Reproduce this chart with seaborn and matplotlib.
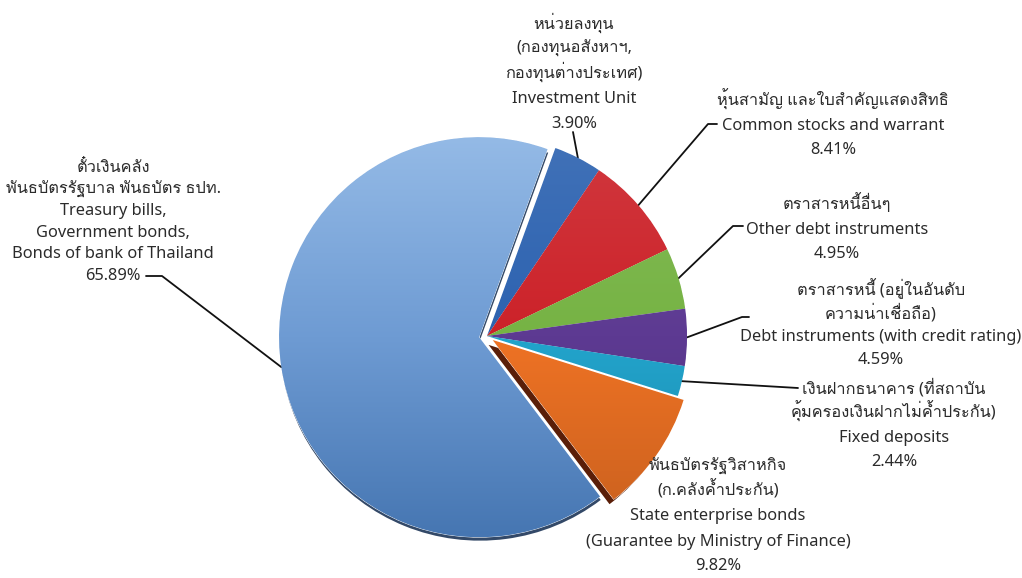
import numpy as np
import pandas as pd
import matplotlib
matplotlib.use("Agg")
import matplotlib.pyplot as plt
import matplotlib.patheffects as pe
from matplotlib import font_manager
from matplotlib.ft2font import FT2Font
from matplotlib.colors import LinearSegmentedColormap, to_rgb
import seaborn as sns

# ==========================================
# Data
# ==========================================

labels_th = [
    "หน่วยลงทุน\n(กองทุนอสังหาฯ,\nกองทุนต่างประเทศ)",
    "หุ้นสามัญ และใบสำคัญแสดงสิทธิ",
    "ตราสารหนี้อื่นๆ",
    "ตราสารหนี้ (อยู่ในอันดับ\nความน่าเชื่อถือ)",
    "เงินฝากธนาคาร (ที่สถาบัน\nคุ้มครองเงินฝากไม่ค้ำประกัน)",
    "พันธบัตรรัฐวิสาหกิจ\n(ก.คลังค้ำประกัน)",
    "ตั๋วเงินคลัง\nพันธบัตรรัฐบาล พันธบัตร ธปท.",
]
labels_en = [
    "Investment Unit",
    "Common stocks and warrant",
    "Other debt instruments",
    "Debt instruments (with credit rating)",
    "Fixed deposits",
    "State enterprise bonds\n(Guarantee by Ministry of Finance)",
    "Treasury bills,\nGovernment bonds,\nBonds of bank of Thailand",
]
shares = [3.90, 8.41, 4.95, 4.59, 2.44, 9.82, 65.89]
slice_colors = ["#2C62B0", "#CC2229", "#76B344", "#5D3A92", "#22A4CC", "#EE7224", "#6E9BD3"]

df = pd.DataFrame({"th": labels_th, "en": labels_en, "share": shares, "color": slice_colors})

# ==========================================
# Fonts (find something that can draw Thai)
# ==========================================

thai_font = None
for f in font_manager.fontManager.ttflist:
    try:
        if 0x0E01 in FT2Font(f.fname).get_charmap():
            thai_font = f.name
            break
    except Exception:
        pass

sns.set_theme(style="white")
families = ["Noto Sans"] + ([thai_font] if thai_font else []) + ["DejaVu Sans"]
plt.rcParams["font.family"] = families

# ==========================================
# Layout (pixel coordinates, y from top)
# ==========================================

W, H = 1022, 578
cx, cy, R = 487, 336, 200

# label: center x, first line center y, line step
label_pos = [(574, 23, 24.8), (833, 100, 24), (837, 204, 24), (881, 290, 22.7),
             (894, 388, 24.2), (718, 465, 25), (113, 167, 21.4)]
leaders = [
    [(573, 132)],
    [(708, 124), (717, 124)],
    [(733, 226), (743, 226)],
    [(742, 317), (749, 317)],
    [(798, 388)],
    None,
    [(162, 276), (146, 276)],
]
explode_px = [0, 0, 0, 0, 0, 7, 8]

def Y(y):
    return H - y

# ==========================================
# Plot
# ==========================================

fig = plt.figure(figsize=(W / 100, H / 100), dpi=100)
ax = fig.add_axes([0, 0, 1, 1])

wedges, _ = ax.pie(
    df["share"],
    colors=sns.color_palette(df["color"].tolist()),
    startangle=70,
    counterclock=False,
    radius=R,
    center=(cx, Y(cy)),
    explode=explode_px,
    wedgeprops=dict(edgecolor="white", linewidth=0.6),
)

# shadows
wedges[6].set_path_effects([pe.SimplePatchShadow(offset=(0.5, -2.5), shadow_rgbFace="#1d3557", alpha=0.9), pe.Normal()])
wedges[5].set_path_effects([pe.SimplePatchShadow(offset=(-3, -3.5), shadow_rgbFace="#5a1e08", alpha=1.0), pe.Normal()])

# soft vertical gradient inside each slice
grad = np.linspace(0, 1, 256).reshape(-1, 1)
for i, w in enumerate(wedges):
    base = np.array(to_rgb(df["color"][i]))
    if i == 6:
        stops = ["#4676B2", base, "#94BAE6"]
    else:
        stops = [base * 0.84, base, base + (1 - base) * 0.1]
    cmap = LinearSegmentedColormap.from_list("g", stops)
    x0, y0 = w.center
    im = ax.imshow(grad, cmap=cmap, origin="lower", aspect="auto", interpolation="bicubic",
                   extent=(x0 - w.r, x0 + w.r, y0 - w.r, y0 + w.r), zorder=w.get_zorder() + 0.1)
    im.set_clip_path(w)

# labels and leader lines
for i, w in enumerate(wedges):
    tx, ty, step = label_pos[i]
    lines = df["th"][i].split("\n") + df["en"][i].split("\n") + [f"{df['share'][i]:.2f}%"]
    for j, line in enumerate(lines):
        ax.text(tx, Y(ty + j * step + 5.5), line, ha="center", va="baseline",
                fontsize=11.8, color="#2b2b2b")
    if leaders[i] is None:
        continue
    mid = np.deg2rad((w.theta1 + w.theta2) / 2)
    x0, y0 = w.center
    pts = [(x0 + w.r * np.cos(mid), y0 + w.r * np.sin(mid))] + [(px, Y(py)) for px, py in leaders[i]]
    ax.plot([p[0] for p in pts], [p[1] for p in pts], color="#111111", lw=1.3, zorder=1)

ax.set_xlim(0, W)
ax.set_ylim(0, H)
ax.set_aspect("equal")
ax.axis("off")

fig.savefig("out.png", dpi=100, facecolor="white")
